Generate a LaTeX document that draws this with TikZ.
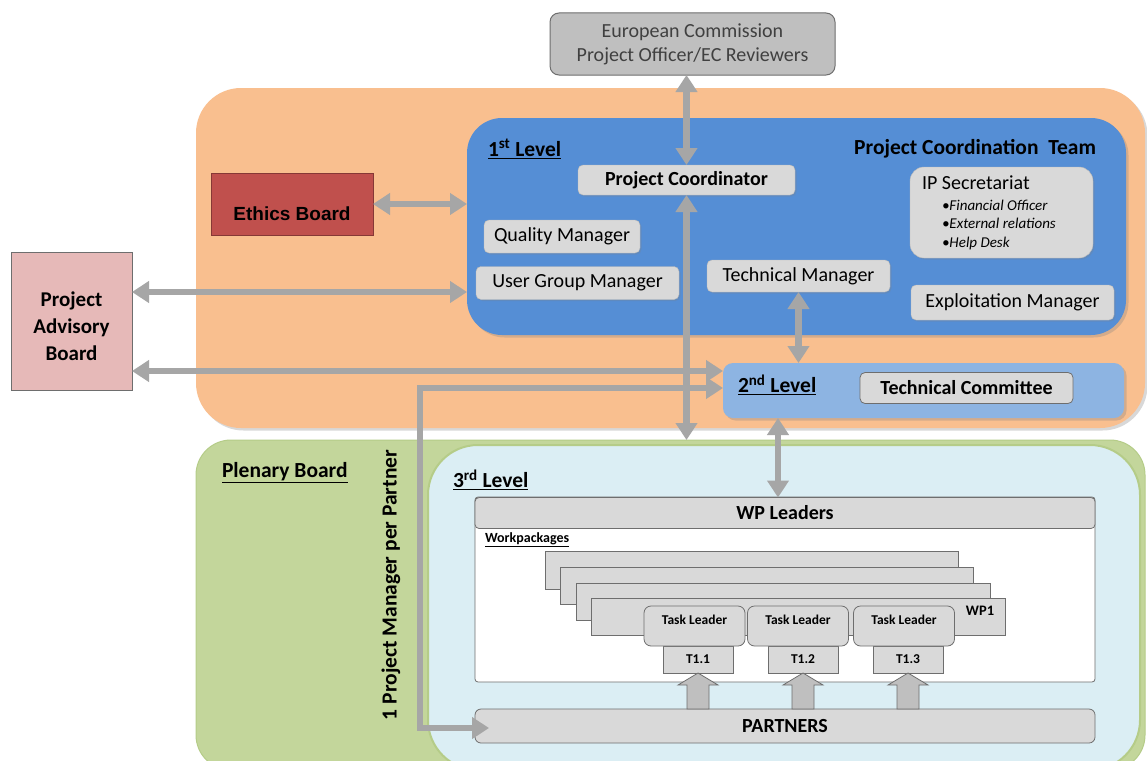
\documentclass[tikz,border=0pt]{standalone}
\usepackage{fontspec}
\setmainfont{Carlito}
\newfontfamily\arialish{Liberation Sans}
\usetikzlibrary{arrows.meta,shadows}

\definecolor{orangepanel}{HTML}{F9BF8F}
\definecolor{greenpanel}{HTML}{C3D69B}
\definecolor{greenedge}{HTML}{B5CC88}
\definecolor{paleblue}{HTML}{DBEEF4}
\definecolor{bluepanel}{HTML}{558ED5}
\definecolor{bluelight}{HTML}{8DB4E2}
\definecolor{boxgray}{HTML}{D9D9D9}
\definecolor{ecgray}{HTML}{BFBFBF}
\definecolor{arrowgray}{HTML}{A6A6A6}
\definecolor{ethicsred}{HTML}{C0504D}
\definecolor{pabpink}{HTML}{E6B9B8}
\definecolor{edgegray}{HTML}{6E6E6E}

\newcommand\fsz[2]{\fontsize{#1pt}{#2pt}\selectfont}

\begin{document}
\begin{tikzpicture}[x=1pt,y=-1pt,
  every node/.style={inner sep=0pt, outer sep=0pt},
  softshadow/.style={drop shadow={shadow xshift=2.5pt, shadow yshift=-2.5pt, opacity=0.3}},
  graybox/.style={fill=boxgray, draw=boxgray!85!black, line width=0.4pt, rounded corners=5pt,
                  drop shadow={shadow xshift=1.5pt, shadow yshift=-1.5pt, opacity=0.25}},
  framedbox/.style={fill=boxgray, draw=edgegray, line width=0.8pt},
  garrow/.style={draw=arrowgray, line width=6.5pt, >={Triangle[length=17pt,width=21pt]}, <->},
  blockarrow/.style={fill=ecgray, draw=edgegray, line width=0.8pt, line join=miter},
  lbl/.style={font=\fsz{20}{24}},
  blbl/.style={font=\fsz{20}{24}\bfseries},
  headlbl/.style={font=\fsz{21.5}{24}\bfseries},
  small/.style={font=\fsz{13.5}{15}\bfseries}
]
\clip (0,0) rectangle (1147,760);
\fill[white] (0,0) rectangle (1147,760);

% ---------- panels ----------
\node[fill=orangepanel, rounded corners=45pt, minimum width=949pt, minimum height=340pt, softshadow] (orange) at (670.5,258) {};
\node[fill=greenpanel, draw=greenedge, line width=1pt, rounded corners=35pt, minimum width=949pt, minimum height=330pt] (plenary) at (670.5,605) {};
\node[fill=paleblue, draw=greenedge, line width=2pt, rounded corners=50pt, minimum width=712pt, minimum height=325pt] (lvl3) at (784,607.5) {};
\node[fill=bluepanel, rounded corners=35pt, minimum width=659pt, minimum height=217pt, softshadow] (l1) at (796.5,226.5) {};
\node[fill=bluelight, rounded corners=10pt, minimum width=401pt, minimum height=55pt, softshadow] (l2) at (923.5,390.5) {};

% ---------- outside boxes ----------
\node[fill=ecgray, draw=edgegray, line width=1pt, rounded corners=9pt, minimum width=285pt, minimum height=62pt,
      font=\fsz{20}{24}, text=black!75, align=center] (ec) at (692.5,44) {European Commission\\Project Officer/EC Reviewers};
\node[fill=ethicsred, draw=ethicsred!70!black, line width=1pt, minimum width=162pt, minimum height=62pt] (ethics) at (292,204) {};
\node[font=\fsz{19}{22}\arialish\bfseries] (ethicslbl) at (292,214) {Ethics Board};
\node[fill=pabpink, draw=edgegray, line width=1pt, minimum width=121pt, minimum height=138pt] (pab) at (71.5,321) {};
\node[font=\fsz{21}{27}\bfseries, align=center] (pablbl) at (71.5,326) {Project\\Advisory\\Board};

% ---------- first level ----------
\node[headlbl, anchor=west] (l1lbl) at (488,149) {\underline{1\textsuperscript{st} Level}};
\node[headlbl, anchor=east] (pctlbl) at (1096,149) {Project\ Coordination\ \ Team};
\node[graybox, minimum width=217pt, minimum height=30pt, blbl] (pc) at (686.5,180) {Project Coordinator};
\node[graybox, minimum width=156pt, minimum height=33pt, lbl] (qm) at (562,236.5) {Quality Manager};
\node[graybox, minimum width=203pt, minimum height=33pt, lbl] (ugm) at (577.5,283) {User Group Manager};
\node[graybox, minimum width=183pt, minimum height=32pt, lbl] (tm) at (798.5,276) {Technical Manager};
\node[graybox, minimum width=203pt, minimum height=35pt, lbl] (em) at (1012.5,302.5) {Exploitation Manager};
\node[graybox, rounded corners=14pt, minimum width=183pt, minimum height=91pt] (ips) at (1001.5,212.5) {};
\node[lbl, anchor=north west] (ipstitle) at (922,176) {IP Secretariat};
\node[anchor=north west, align=left, font=\fsz{15}{18.5}\itshape] (ipslist) at (942,200)
     {\textbullet Financial Officer\\\textbullet External relations\\\textbullet Help Desk};

% ---------- second level ----------
\node[headlbl, anchor=west] (l2lbl) at (738,385) {\underline{2\textsuperscript{nd} Level}};
\node[framedbox, rounded corners=5pt, minimum width=213pt, minimum height=31pt, blbl] (tc) at (966.5,388) {Technical Committee};

% ---------- plenary / third level ----------
\node[headlbl, anchor=west] (pblbl) at (222,473) {\underline{Plenary Board}};
\node[headlbl, anchor=west] (l3lbl) at (453,480) {\underline{3\textsuperscript{rd} Level}};
\node[font=\fsz{21.5}{24}\bfseries, rotate=90] (pmlbl) at (391,585) {1 Project Manager per Partner};

\node[fill=white, draw=edgegray, line width=0.8pt, rounded corners=3pt, minimum width=620pt, minimum height=185pt] (wpframe) at (785,589.5) {};
\node[framedbox, rounded corners=4pt, minimum width=620pt, minimum height=31pt, blbl] (wpl) at (785,513) {WP Leaders};
\node[anchor=west, font=\fsz{14}{16}\bfseries] (wplbl) at (485,540) {\underline{Workpackages}};

\node[framedbox, minimum width=413pt, minimum height=38pt] (wp4) at (751.5,570) {};
\node[framedbox, minimum width=413pt, minimum height=37pt] (wp3) at (766.5,585.5) {};
\node[framedbox, minimum width=414pt, minimum height=37pt] (wp2) at (783,601.5) {};
\node[framedbox, minimum width=414pt, minimum height=37pt] (wp1) at (798,616.5) {};
\node[font=\fsz{14.5}{16}\bfseries] (wp1lbl) at (980,611) {WP1};

\node[framedbox, minimum width=70pt, minimum height=27pt, small] (t11) at (698,659.5) {T1.1};
\node[framedbox, minimum width=70pt, minimum height=27pt, small] (t12) at (803,659.5) {T1.2};
\node[framedbox, minimum width=70pt, minimum height=27pt, small] (t13) at (908,659.5) {T1.3};
\node[framedbox, rounded corners=7pt, minimum width=101pt, minimum height=40pt] (tl1) at (694.5,626) {};
\node[framedbox, rounded corners=7pt, minimum width=101pt, minimum height=40pt] (tl2) at (798,626) {};
\node[framedbox, rounded corners=7pt, minimum width=101pt, minimum height=40pt] (tl3) at (904,626) {};
\node[small] (tl1lbl) at (694.5,620) {Task Leader};
\node[small] (tl2lbl) at (798,620) {Task Leader};
\node[small] (tl3lbl) at (904,620) {Task Leader};

\node[framedbox, rounded corners=6pt, minimum width=620pt, minimum height=34pt, blbl] (partners) at (785,726) {PARTNERS};

% ---------- block arrows from partners up to the tasks ----------
\foreach \t in {t11,t12,t13}
  \draw[blockarrow] (\t.south |- partners.north) ++(-11,0) -- ++(0,-24) -- ++(-9,0) -- ++(20,-12)
        -- ++(20,12) -- ++(-9,0) -- ++(0,24) -- cycle;

% ---------- connectors ----------
\coordinate (pcfoot) at (686.5,440);
\draw[garrow] (pc.north |- ec.south) -- (pc.north);
\draw[garrow] (ethics.east) -- (ethics.east -| l1.west);
\draw[garrow] ([yshift=29pt]pab.east) -- ([yshift=29pt]pab.east -| l1.west);
\draw[garrow] ([yshift=-50pt]pab.east) -- ([yshift=-50pt]pab.east -| l2.west);
\draw[garrow] ([xshift=14pt,yshift=-2pt]partners.west) -- ++(-69,0) |- ([yshift=2.5pt]l2.west);
\draw[garrow] (pc.south) -- (pcfoot);
\draw[garrow] (tm.south) -- (tm.south |- l2.north);
\draw[garrow] ([xshift=-7pt]wpl.north |- l2.south) -- ([xshift=-7pt]wpl.north);
\end{tikzpicture}
\end{document}
